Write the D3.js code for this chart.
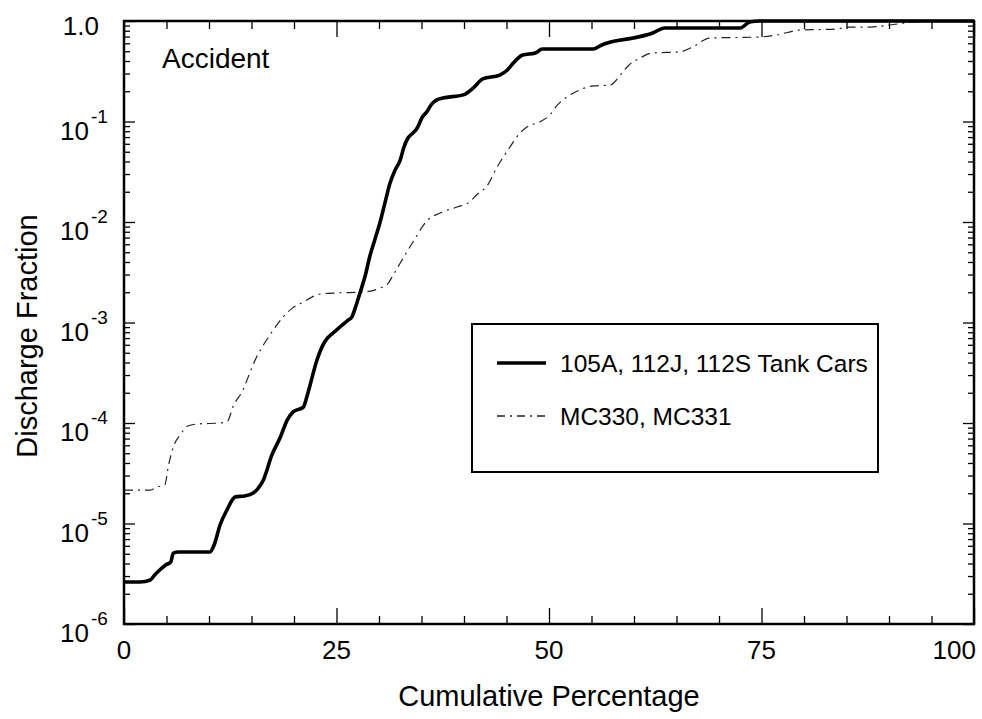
<!DOCTYPE html>
<html>
<head>
<meta charset="utf-8">
<script src="https://cdn.jsdelivr.net/npm/d3@7"></script>
<style>
  body { margin: 0; background: #fff; }
  svg text { font-family: "Liberation Sans", Arial, Helvetica, sans-serif; fill: #000; }
</style>
</head>
<body>
<svg id="chart"></svg>
<script>
// cumulative percentage (x) and discharge fraction (y)
const tankX = [0, 1.9, 3.1, 3.6, 4.2, 4.9, 5.5, 5.8, 6.4, 10.1, 10.6, 11.3, 12.1, 13.1, 14.2, 15.2, 15.8, 16.4,
  17.4, 18.4, 19.2, 19.9, 21.1, 21.4, 21.8, 22.7, 23.6, 24.6, 25.4, 26.4, 26.8, 27.2, 27.8, 28.4, 28.9, 29.5,
  30.1, 30.7, 31.3, 31.9, 32.5, 32.9, 33.4, 34.0, 34.5, 35.1, 35.6, 36.2, 36.8, 37.5, 39.9, 41.1, 42.2, 44.2,
  45.1, 45.8, 46.9, 48.4, 49.2, 55.2, 56.2, 57.8, 59.9, 62.2, 63.6, 72.5, 73.6, 74.8, 100];
const tankY = [2.62e-6, 2.62e-6, 2.74e-6, 3.07e-6, 3.45e-6, 3.87e-6, 4.14e-6, 5.08e-6, 5.2e-6, 5.2e-6, 6.1e-6,
  9.66e-6, 1.36e-5, 1.84e-5, 1.88e-5, 2.01e-5, 2.25e-5, 2.71e-5, 4.81e-5, 7.26e-5, 1.07e-4, 1.29e-4, 1.44e-4,
  1.69e-4, 2.23e-4, 4.24e-4, 6.4e-4, 7.87e-4, 9.02e-4, 1.06e-3, 1.13e-3, 1.39e-3, 2.01e-3, 2.97e-3, 4.49e-3,
  6.62e-3, 9.77e-3, 1.55e-2, 2.44e-2, 3.29e-2, 4.14e-2, 5.45e-2, 6.85e-2, 7.69e-2, 8.62e-2, 0.111, 0.124, 0.149,
  0.164, 0.171, 0.184, 0.216, 0.265, 0.290, 0.325, 0.382, 0.459, 0.481, 0.526, 0.526, 0.577, 0.632, 0.677,
  0.760, 0.852, 0.852, 0.977, 1.0, 1.0];

const mcX = [0, 3.1, 3.9, 4.8, 5.2, 5.8, 6.6, 7.5, 8.6, 11.3, 12.2, 12.8, 14.0, 14.8, 15.6, 16.4, 17.4, 18.7,
  19.8, 21.1, 22.1, 23.1, 25.1, 28.1, 30.1, 31.1, 31.6, 32.5, 34.0, 35.6, 37.2, 39.2, 40.5, 41.6, 42.7, 43.9,
  45.4, 46.6, 47.4, 48.9, 50.1, 50.9, 52.1, 53.6, 55.2, 57.2, 58.4, 59.3, 60.7, 62.2, 65.4, 66.9, 68.9, 74.8,
  76.8, 79.5, 83.9, 85.1, 87.8, 90.1, 92.8, 94.8, 100];
const mcY = [2.15e-5, 2.15e-5, 2.31e-5, 2.42e-5, 3.65e-5, 5.77e-5, 7.6e-5, 9.33e-5, 9.77e-5, 1.0e-4, 1.05e-4,
  1.44e-4, 2.13e-4, 3.15e-4, 4.54e-4, 5.97e-4, 8.04e-4, 1.13e-3, 1.39e-3, 1.6e-3, 1.79e-3, 1.92e-3, 1.97e-3,
  2.01e-3, 2.2e-3, 2.47e-3, 2.9e-3, 3.91e-3, 6.32e-3, 1.02e-2, 1.23e-2, 1.41e-2, 1.55e-2, 1.90e-2, 2.28e-2,
  3.53e-2, 5.57e-2, 7.69e-2, 8.82e-2, 9.89e-2, 0.116, 0.143, 0.175, 0.206, 0.226, 0.231, 0.290, 0.357, 0.428,
  0.481, 0.492, 0.551, 0.677, 0.693, 0.726, 0.813, 0.832, 0.871, 0.871, 0.912, 0.977, 1.0, 1.0];

const xMajor = [0, 25, 50, 75, 100];
const xMinor = [5, 10, 15, 20, 30, 35, 40, 45, 55, 60, 65, 70, 80, 85, 90, 95];
const yMajor = [1e-6, 1e-5, 1e-4, 1e-3, 1e-2, 1e-1, 1];
const yLabels = [['10', '-6'], ['10', '-5'], ['10', '-4'], ['10', '-3'], ['10', '-2'], ['10', '-1'], ['1.0', '']];
const legendNames = ['105A, 112J, 112S Tank Cars', 'MC330, MC331'];

const width = 982;
const height = 719;
const margin = { top: 21, right: 8, bottom: 95, left: 124 };

const svg = d3.select('#chart').attr('width', width).attr('height', height);

const x = d3.scaleLinear().domain([0, 100]).range([margin.left, width - margin.right]);
const y = d3.scaleLog().domain([1e-6, 1]).range([height - margin.bottom, margin.top]);

const yMinor = y.ticks().filter((v) => !yMajor.some((m) => Math.abs(m - v) / m < 1e-9));

const tickAxis = (gen, vals, size, transform) => {
  const g = svg.append('g')
    .attr('transform', transform)
    .call(gen.tickValues(vals).tickSize(size).tickFormat(''));
  g.select('.domain').remove();
  g.selectAll('line').attr('stroke', '#000').attr('stroke-width', 1.3);
  return g;
};

const bottomY = y.range()[0];
const topY = y.range()[1];
const leftX = x.range()[0];
const rightX = x.range()[1];

// inward ticks on all four sides
tickAxis(d3.axisBottom(x), xMajor, -16, `translate(0,${bottomY})`);
tickAxis(d3.axisBottom(x), xMinor, -8, `translate(0,${bottomY})`);
tickAxis(d3.axisTop(x), xMajor, -16, `translate(0,${topY})`);
tickAxis(d3.axisTop(x), xMinor, -8, `translate(0,${topY})`);
tickAxis(d3.axisLeft(y), yMajor, -11, `translate(${leftX},0)`);
tickAxis(d3.axisLeft(y), yMinor, -6, `translate(${leftX},0)`);
tickAxis(d3.axisRight(y), yMajor, -11, `translate(${rightX},0)`);
tickAxis(d3.axisRight(y), yMinor, -6, `translate(${rightX},0)`);

// curves
const line = (xs, ys) => d3.line()
  .x((d, i) => x(xs[i]))
  .y((d, i) => y(ys[i]))
  .curve(d3.curveMonotoneX)(xs);

svg.append('clipPath').attr('id', 'plot-clip')
  .append('rect')
  .attr('x', leftX).attr('y', topY - 2)
  .attr('width', rightX - leftX).attr('height', bottomY - topY + 4);

svg.append('path')
  .attr('d', line(mcX, mcY))
  .attr('clip-path', 'url(#plot-clip)')
  .attr('fill', 'none')
  .attr('stroke', '#222')
  .attr('stroke-width', 1.2)
  .attr('stroke-dasharray', '9,5,2,5');

svg.append('path')
  .attr('d', line(tankX, tankY))
  .attr('clip-path', 'url(#plot-clip)')
  .attr('fill', 'none')
  .attr('stroke', '#000')
  .attr('stroke-width', 3.6)
  .attr('stroke-linejoin', 'round');

// frame
svg.append('rect')
  .attr('x', leftX).attr('y', topY)
  .attr('width', rightX - leftX).attr('height', bottomY - topY)
  .attr('fill', 'none').attr('stroke', '#000').attr('stroke-width', 2.5);

// tick labels
xMajor.forEach((v) => {
  svg.append('text')
    .attr('x', v === 100 ? x(v) + 2 : x(v))
    .attr('y', bottomY + 35)
    .attr('text-anchor', v === 100 ? 'end' : 'middle')
    .style('font-size', '26px')
    .text(v);
});

yMajor.forEach((v, i) => {
  const t = svg.append('text')
    .attr('y', y(v) + (v === 1 ? 14 : 18))
    .attr('x', 0)
    .style('font-size', '26px');
  if (yLabels[i][1]) {
    t.append('tspan').attr('x', 60).text(yLabels[i][0]);
    t.append('tspan').attr('x', 91).attr('dy', -17).style('font-size', '19px').text(yLabels[i][1]);
  } else {
    t.attr('x', 99).attr('text-anchor', 'end').text(yLabels[i][0]);
  }
});

// titles
svg.append('text')
  .attr('x', (leftX + rightX) / 2)
  .attr('y', 706)
  .attr('text-anchor', 'middle')
  .style('font-size', '29px')
  .text('Cumulative Percentage');

svg.append('text')
  .attr('transform', 'translate(37,336) rotate(-90)')
  .attr('text-anchor', 'middle')
  .style('font-size', '29px')
  .text('Discharge Fraction');

svg.append('text')
  .attr('x', 162)
  .attr('y', 68)
  .style('font-size', '28px')
  .text('Accident');

// legend
const legend = svg.append('g').attr('transform', 'translate(472,324)');
legend.append('rect')
  .attr('width', 406).attr('height', 148)
  .attr('fill', '#fff').attr('stroke', '#000').attr('stroke-width', 2);

const legendStyles = [
  { w: 3.6, dash: null, c: '#000' },
  { w: 1.5, dash: '8,5,2,5', c: '#222' }
];
legendNames.forEach((name, i) => {
  const ly = 39 + i * 53;
  legend.append('line')
    .attr('x1', 25).attr('x2', 74)
    .attr('y1', ly).attr('y2', ly)
    .attr('stroke', legendStyles[i].c)
    .attr('stroke-width', legendStyles[i].w)
    .attr('stroke-dasharray', legendStyles[i].dash);
  legend.append('text')
    .attr('x', 88).attr('y', ly + 9)
    .style('font-size', '24.5px')
    .text(name);
});
</script>
</body>
</html>
